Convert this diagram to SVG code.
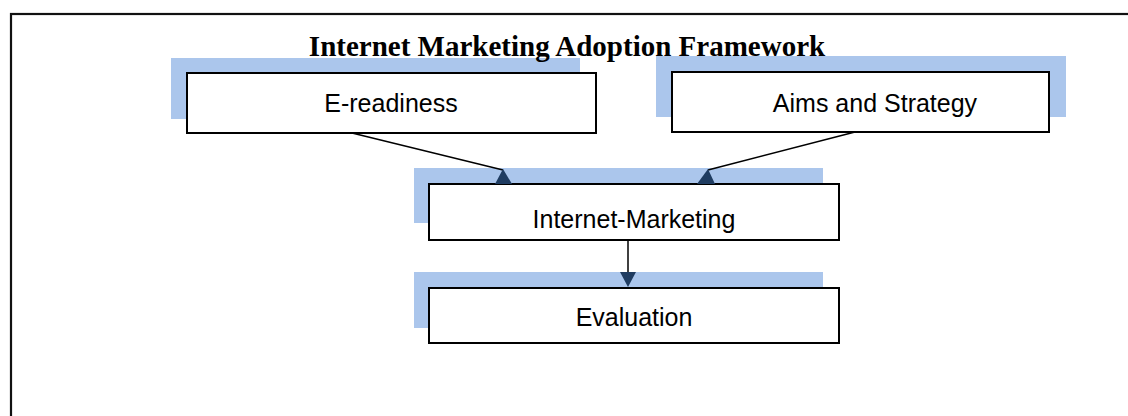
<svg xmlns="http://www.w3.org/2000/svg" width="1128" height="416" viewBox="0 0 1128 416">
  <style>
    .shadow { fill: #abc6ec; }
    .box { fill: #ffffff; stroke: #000000; stroke-width: 2; }
    .label { font-family: "Liberation Sans", Arial, sans-serif; font-size: 25px; fill: #000000; text-anchor: middle; }
    .title { font-family: "Liberation Serif", "Times New Roman", serif; font-size: 29px; font-weight: bold; fill: #000000; text-anchor: middle; }
    .link { stroke: #000000; stroke-width: 1.5; fill: none; }
    .head { fill: #1f3c61; }
  </style>

  <rect x="0" y="0" width="1128" height="416" fill="#ffffff"/>

  <!-- outer frame -->
  <rect x="11" y="14" width="1130" height="420" fill="none" stroke="#111111" stroke-width="2.2"/>

  <g id="node-ereadiness">
    <rect class="shadow" x="171" y="58" width="409" height="61"/>
    <rect class="box" x="187" y="73" width="409" height="60"/>
    <text class="label" x="391" y="112">E-readiness</text>
  </g>

  <g id="node-aims">
    <rect class="shadow" x="656" y="56" width="410" height="61"/>
    <rect class="box" x="672" y="72" width="377" height="60"/>
    <text class="label" x="875" y="112">Aims and Strategy</text>
  </g>

  <g id="node-internet-marketing">
    <rect class="shadow" x="414" y="168" width="409" height="55"/>
    <rect class="box" x="429" y="184" width="410" height="56"/>
    <text class="label" x="634" y="228">Internet-Marketing</text>
  </g>

  <g id="node-evaluation">
    <rect class="shadow" x="414" y="272" width="409" height="56"/>
    <rect class="box" x="429" y="288" width="410" height="55"/>
    <text class="label" x="634" y="326">Evaluation</text>
  </g>

  <g id="connectors">
    <line class="link" x1="352" y1="133" x2="503" y2="170"/>
    <polygon class="head" points="503,169 512,184 495,184"/>
    <line class="link" x1="855" y1="132" x2="708" y2="170"/>
    <polygon class="head" points="708,169 715,184 697,184"/>
    <line class="link" x1="628" y1="240" x2="628" y2="273"/>
    <polygon class="head" points="620,272 636,272 628,287"/>
  </g>

  <!-- heading sits above the shaded panels -->
  <text class="title" x="567" y="56">Internet Marketing Adoption Framework</text>
</svg>
